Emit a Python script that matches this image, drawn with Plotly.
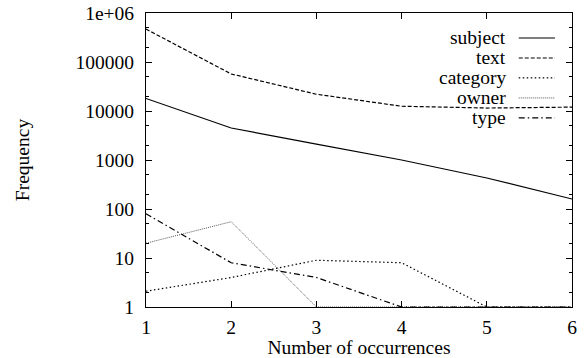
import plotly.graph_objects as go

x_vals = [1, 2, 3, 4, 5, 6]
series_names = ["subject", "text", "category", "owner", "type"]
subject = [18000, 4500, 2100, 1000, 430, 160]
text = [470000, 57000, 22000, 12500, 11500, 12000]
category = [2.1, 4.0, 9.0, 8.0, 1, 1]
owner = [20, 55, 1, 1, 1, 1]
type_ = [80, 8, 4, 1, 1, 1]
y_tickvals = [1, 10, 100, 1000, 10000, 100000, 1000000]
y_ticktext = ["1", "10", "100", "1000", "10000", "100000", "1e+06"]
x_tickvals = [1, 2, 3, 4, 5, 6]

values = [subject, text, category, owner, type_]
styles = [
    dict(color="black", width=1.2, dash="solid"),
    dict(color="black", width=1.2, dash="4px,2px"),
    dict(color="black", width=1.2, dash="1.5px,2.5px"),
    dict(color="#555555", width=1.0, dash="1px,1px"),
    dict(color="black", width=1.2, dash="6px,3px,1.5px,3px"),
]

FONT = "Liberation Serif"
TF = dict(family=FONT, size=19.5, color="black")
fig = go.Figure()
for name, ys, st in zip(series_names, values, styles):
    fig.add_trace(go.Scatter(x=x_vals, y=ys, mode="lines", name=name, line=st,
                             showlegend=False, hoverinfo="skip"))

# gnuplot-like legend: right-aligned text, sample line to the right
for i, (name, st) in enumerate(zip(series_names, styles)):
    yp = 0.915 - i * 0.068
    fig.add_annotation(x=0.850, y=yp, xref="paper", yref="paper", text=name,
                       showarrow=False, xanchor="right", yanchor="middle", font=TF)
    fig.add_shape(type="line", xref="paper", yref="paper", x0=0.875, x1=0.960,
                  y0=yp, y1=yp, line=st)

fig.update_layout(
    width=587, height=358,
    margin=dict(l=146, r=15, t=13, b=51, autoexpand=False),
    paper_bgcolor="white", plot_bgcolor="white",
    font=TF,
    showlegend=False,
)
fig.update_xaxes(
    range=[1, 6], tickvals=x_tickvals, ticks="inside", ticklen=6, tickcolor="black",
    showline=True, linecolor="black", linewidth=1, mirror="allticks",
    showgrid=False, zeroline=False, automargin=False, tickfont=TF,
    ticklabelstandoff=3,
    title=dict(text="Number of occurrences", font=TF, standoff=0),
)
fig.update_yaxes(
    type="log", range=[0, 6], tickvals=y_tickvals, ticktext=y_ticktext,
    ticks="inside", ticklen=6, tickcolor="black",
    showline=True, linecolor="black", linewidth=1, mirror="allticks",
    showgrid=False, zeroline=False, automargin=False, tickfont=TF,
    ticklabelstandoff=7,
    minor=dict(ticks="inside", ticklen=3, tickcolor="black", showgrid=False),
    title=dict(text="Frequency", font=TF, standoff=40),
)
fig.write_html("out.html", config={"displayModeBar": False},
               post_script="document.body.style.margin='0';document.body.style.overflow='hidden';")
